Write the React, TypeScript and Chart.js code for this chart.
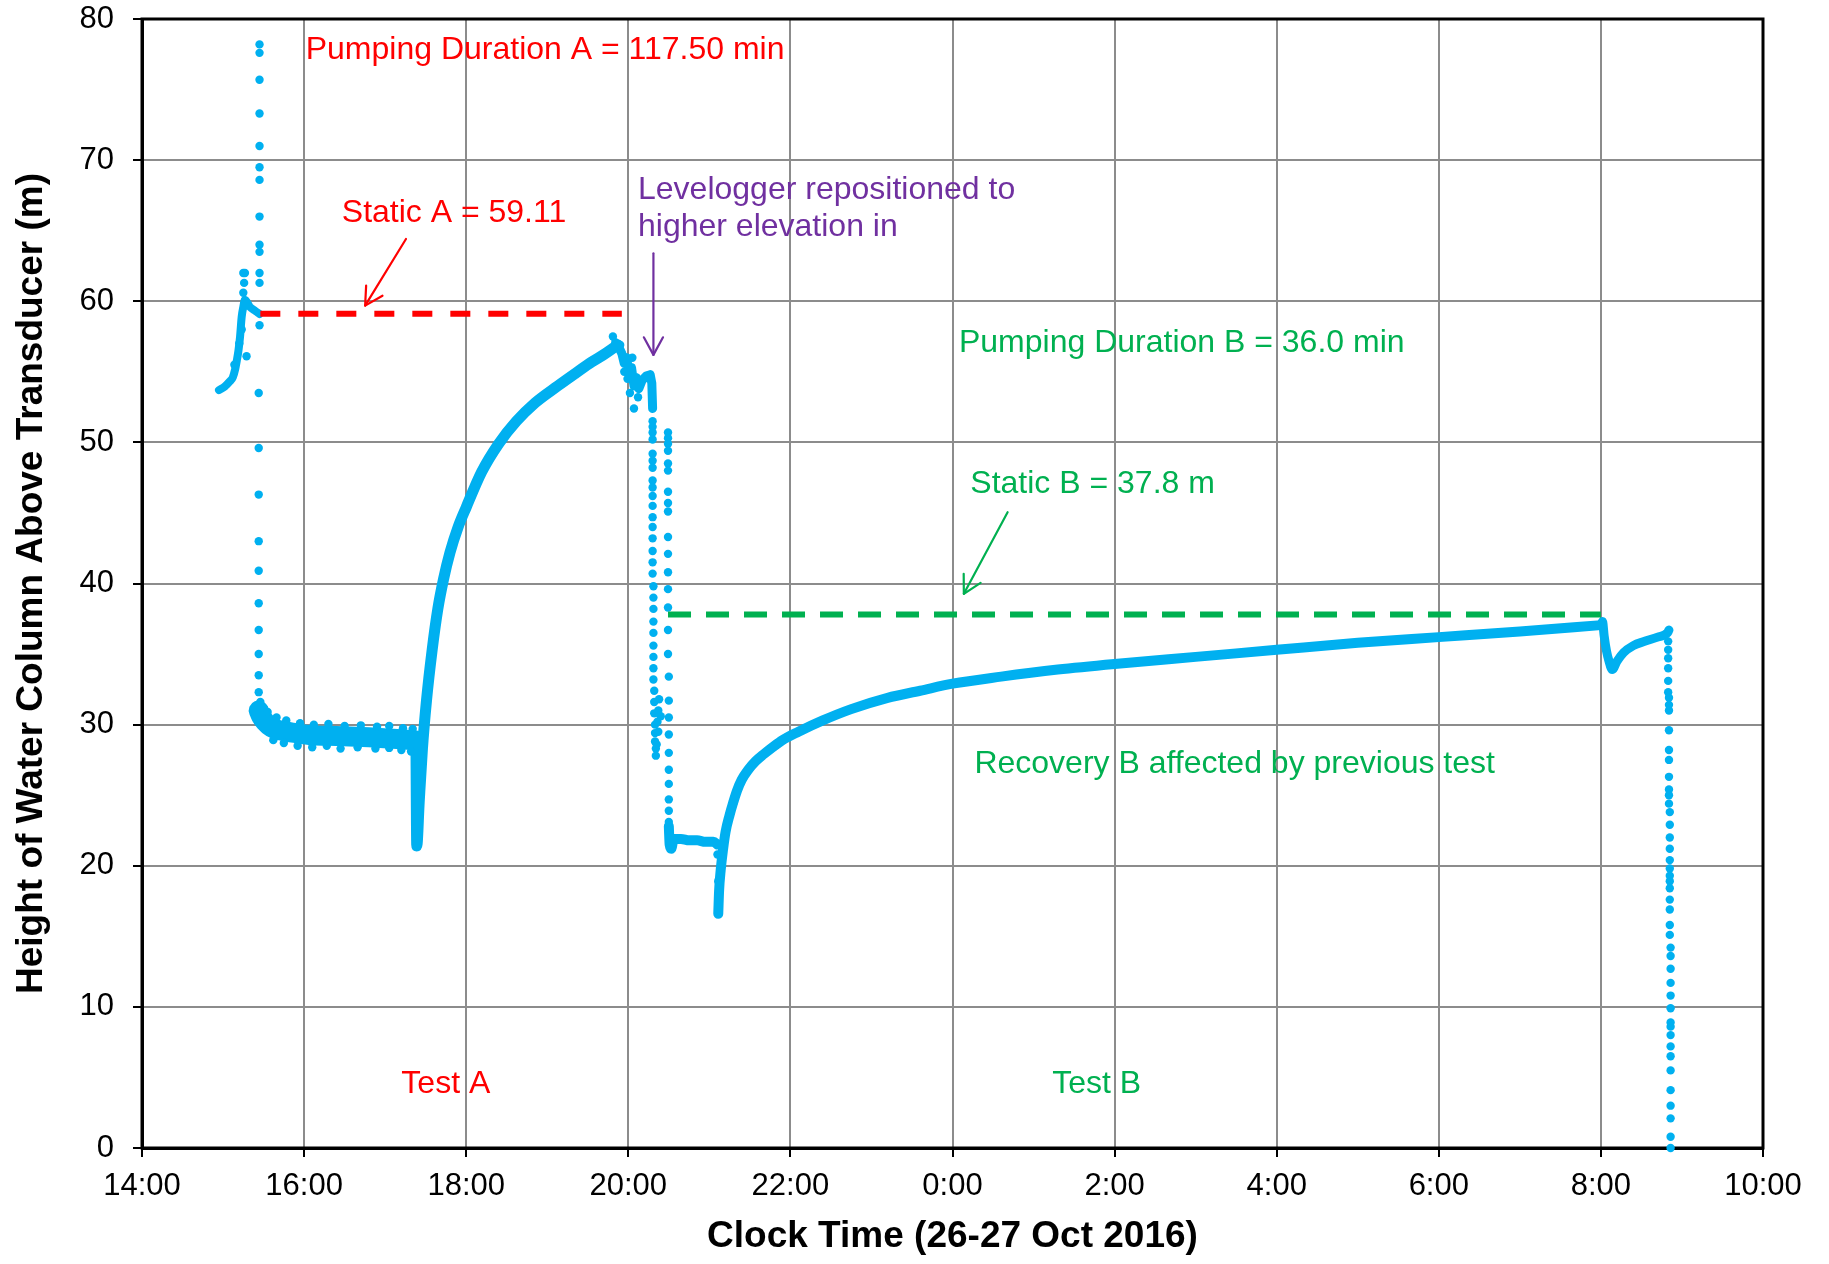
import React, { useEffect, useRef } from 'react';
import { Chart, registerables } from 'chart.js';

Chart.register(...registerables);

type P = [number, number];

const FONT = '"Liberation Sans", Arial, Helvetica, sans-serif';
const BLUE = '#00B0F0';
const RED = '#FF0000';
const GREEN = '#00B050';
const PURPLE = '#7030A0';

// x = hours since 0:00 on 26 Oct 2016 (so 24 = 0:00 on 27 Oct)
const X_TICK_LABELS = ['14:00', '16:00', '18:00', '20:00', '22:00', '0:00', '2:00', '4:00', '6:00', '8:00', '10:00'];

// ---- Test A ----
const preStaticA: P[] = [
  [14.95, 53.7], [15.02, 53.95], [15.08, 54.3], [15.12, 54.6], [15.15, 55.2], [15.17, 55.8], [15.19, 56.5],
  [15.21, 57.5], [15.23, 58.9], [15.25, 59.6], [15.27, 60.1], [15.33, 59.6], [15.4, 59.3], [15.45, 59.1],
];
const preStaticADots: P[] = [
  [15.14, 55.5], [15.2, 57.0], [15.25, 62.0], [15.27, 62.0], [15.26, 61.3], [15.25, 60.6], [15.29, 56.1], [15.23, 58.0],
];
const pumpStartADots: P[] = [
  [15.45, 78.2], [15.45, 77.6], [15.45, 75.7], [15.45, 73.3], [15.45, 71.0], [15.45, 69.5], [15.45, 68.6],
  [15.45, 66.0], [15.45, 64.0], [15.45, 63.5], [15.45, 62.0], [15.45, 61.3], [15.45, 58.3], [15.44, 53.5],
  [15.44, 49.6], [15.44, 46.3], [15.44, 43.0], [15.44, 40.9], [15.44, 38.6], [15.44, 36.7], [15.44, 35.0],
  [15.44, 33.5], [15.44, 32.3],
];
const drawdownA: P[] = [
  [15.44, 31.0], [15.47, 30.6], [15.52, 30.2], [15.6, 29.8], [15.7, 29.6], [15.9, 29.4], [16.1, 29.25],
  [16.4, 29.2], [16.8, 29.1], [17.1, 29.0], [17.37, 28.9],
];
const drawdownANoiseDots: P[] = [
  [15.46, 31.6], [15.5, 31.2], [15.55, 30.9], [15.66, 30.5], [15.78, 30.3], [15.95, 30.1], [16.12, 30.0],
  [16.3, 30.05], [16.5, 29.9], [16.7, 29.95], [16.9, 29.85], [17.05, 29.9], [17.22, 29.75], [17.34, 29.7],
  [15.62, 28.9], [15.75, 28.7], [15.92, 28.5], [16.1, 28.4], [16.28, 28.5], [16.45, 28.3], [16.66, 28.4],
  [16.88, 28.3], [17.05, 28.35], [17.2, 28.2], [17.32, 28.1],
];
const recoveryA: P[] = [
  [17.38, 28.7], [17.39, 21.4], [17.42, 24.5], [17.46, 28.3], [17.51, 31.7], [17.58, 35.3], [17.65, 38.2],
  [17.72, 40.3], [17.8, 42.2], [17.9, 44.0], [18.0, 45.4], [18.19, 47.9], [18.4, 49.9], [18.62, 51.5],
  [18.85, 52.8], [19.13, 54.0], [19.35, 54.9], [19.55, 55.7], [19.72, 56.3], [19.87, 56.9],
];
const repositionNoise: P[] = [
  [19.87, 56.9], [19.92, 56.3], [19.95, 55.6], [19.98, 56.0], [20.01, 54.8], [20.04, 55.3], [20.07, 54.0],
  [20.1, 54.6], [20.13, 53.8], [20.17, 54.4], [20.22, 54.7], [20.27, 54.8], [20.29, 54.2], [20.3, 52.4],
];
const repositionNoiseDots: P[] = [
  [19.81, 57.5], [19.84, 57.1], [19.9, 56.9], [19.95, 55.0], [19.99, 54.5], [20.02, 53.5], [20.07, 52.4],
  [20.12, 53.2], [20.05, 56.0],
];

// ---- Test B ----
const dropColumn1Dots: P[] = [
  [20.3, 51.5], [20.3, 51.1], [20.3, 50.7], [20.3, 50.2], [20.3, 49.2], [20.3, 48.7], [20.3, 48.2], [20.3, 47.3],
  [20.3, 46.8], [20.3, 46.2], [20.3, 45.5], [20.3, 44.7], [20.3, 44.0], [20.3, 43.2], [20.3, 42.3], [20.3, 41.5],
  [20.3, 40.7], [20.31, 39.8], [20.31, 39.0], [20.31, 38.2], [20.31, 37.3], [20.31, 36.5], [20.31, 35.6],
  [20.31, 34.8], [20.31, 34.0], [20.31, 33.2], [20.32, 32.4], [20.32, 31.6], [20.32, 30.8], [20.33, 30.0],
  [20.33, 29.4], [20.33, 28.8], [20.34, 28.3], [20.34, 27.8],
  [20.36, 30.2], [20.37, 31.0], [20.38, 31.8], [20.37, 29.5], [20.35, 28.6], [20.4, 30.6],
];
const dropColumn2Dots: P[] = [
  [20.49, 50.7], [20.49, 50.3], [20.49, 49.9], [20.49, 49.4], [20.49, 48.5], [20.49, 48.0], [20.49, 46.5],
  [20.49, 45.7], [20.49, 45.1], [20.49, 43.3], [20.49, 42.1], [20.49, 40.8], [20.49, 39.6], [20.49, 38.3],
  [20.49, 36.7], [20.49, 35.0], [20.5, 33.4], [20.5, 31.7], [20.5, 30.5], [20.5, 29.3], [20.5, 28.0],
  [20.5, 26.8], [20.5, 25.8], [20.5, 24.7], [20.5, 23.9], [20.5, 23.1],
];
const drawdownB: P[] = [
  [20.5, 22.8], [20.51, 21.5], [20.53, 21.2], [20.56, 21.9], [20.65, 21.9], [20.75, 21.8], [20.85, 21.8],
  [20.95, 21.7], [21.05, 21.7], [21.1, 21.5],
];
const recoveryBStartDots: P[] = [[21.1, 20.8], [21.11, 18.9]];
const recoveryB: P[] = [
  [21.11, 16.6], [21.12, 18.2], [21.14, 19.7], [21.17, 21.2], [21.2, 22.4], [21.25, 23.6], [21.29, 24.4],
  [21.34, 25.3], [21.4, 26.1], [21.48, 26.8], [21.57, 27.4], [21.67, 27.9], [21.78, 28.4], [21.9, 28.9],
  [22.1, 29.5], [22.4, 30.3], [22.75, 31.1], [23.2, 31.9], [23.6, 32.4], [24.0, 32.9],
  [24.6, 33.4], [25.3, 33.9], [26.0, 34.3], [27.0, 34.8], [28.0, 35.3], [29.0, 35.8], [30.0, 36.2],
  [31.0, 36.6], [32.0, 37.05],
];
const morningDip: P[] = [
  [32.0, 37.05], [32.02, 37.3], [32.04, 36.3], [32.07, 35.2], [32.1, 34.5], [32.14, 33.9], [32.2, 34.5],
  [32.28, 35.1], [32.4, 35.6], [32.54, 35.9], [32.7, 36.2], [32.82, 36.5], [32.84, 36.7],
];
const finalDropDots: P[] = [
  [32.83, 35.9], [32.83, 35.3], [32.83, 34.7], [32.83, 34.0], [32.83, 33.1], [32.83, 32.3], [32.84, 31.9],
  [32.84, 31.4], [32.84, 31.0], [32.84, 29.6], [32.84, 28.2], [32.84, 27.5], [32.84, 26.3], [32.84, 25.4],
  [32.84, 25.0], [32.84, 24.4], [32.85, 23.8], [32.85, 22.9], [32.85, 22.0], [32.85, 21.2], [32.85, 20.4],
  [32.85, 19.8], [32.85, 19.3], [32.85, 18.9], [32.85, 18.4], [32.85, 17.6], [32.85, 16.9], [32.85, 15.8],
  [32.85, 15.1], [32.86, 14.2], [32.86, 13.6], [32.86, 12.7], [32.86, 11.7], [32.86, 10.8], [32.86, 9.9],
  [32.86, 8.9], [32.86, 8.6], [32.86, 8.0], [32.86, 7.2], [32.86, 6.5], [32.86, 5.5], [32.86, 4.1],
  [32.86, 3.0], [32.86, 2.1], [32.86, 0.8], [32.86, 0.0],
];

// ---- Static levels ----
const staticA = 59.11;
const staticAStartEnd: number[] = [15.46, 19.92];
const staticB = 37.8;
const staticBStartEnd: number[] = [20.49, 32.0];

// ---- Annotations (data coordinates) ----
const annotationTexts = [
  { text: 'Pumping Duration A = 117.50 min', x: 16.02, y: 77.8, color: RED },
  { text: 'Static A = 59.11', x: 16.465, y: 66.25, color: RED },
  { text: 'Levelogger repositioned to', x: 20.12, y: 67.88, color: PURPLE },
  { text: 'higher elevation in', x: 20.12, y: 65.26, color: PURPLE },
  { text: 'Pumping Duration B = 36.0 min', x: 24.08, y: 57.04, color: GREEN },
  { text: 'Static B = 37.8 m', x: 24.22, y: 47.05, color: GREEN },
  { text: 'Recovery B affected by previous test', x: 24.27, y: 27.2, color: GREEN },
  { text: 'Test A', x: 17.2, y: 4.53, color: RED },
  { text: 'Test B', x: 25.23, y: 4.53, color: GREEN },
];
const annotationArrows = [
  { from: [17.257, 64.41], to: [16.753, 59.69], color: RED },
  { from: [20.31, 63.4], to: [20.31, 56.2], color: PURPLE },
  { from: [24.68, 45.05], to: [24.14, 39.27], color: GREEN },
];

const toXY = (arr: P[]) => arr.map(([x, y]) => ({ x, y }));

function drawArrow(ctx: CanvasRenderingContext2D, x1: number, y1: number, x2: number, y2: number, color: string) {
  ctx.save();
  ctx.strokeStyle = color;
  ctx.lineWidth = 2.2;
  ctx.lineCap = 'round';
  ctx.lineJoin = 'round';
  ctx.beginPath();
  ctx.moveTo(x1, y1);
  ctx.lineTo(x2, y2);
  ctx.stroke();
  const ang = Math.atan2(y2 - y1, x2 - x1);
  const L = 20;
  const a = 0.5;
  ctx.beginPath();
  ctx.moveTo(x2 - L * Math.cos(ang - a), y2 - L * Math.sin(ang - a));
  ctx.lineTo(x2, y2);
  ctx.lineTo(x2 - L * Math.cos(ang + a), y2 - L * Math.sin(ang + a));
  ctx.stroke();
  ctx.restore();
}

const framePlugin = {
  id: 'frame',
  beforeDatasetsDraw(chart: any) {
    const { ctx, chartArea } = chart;
    ctx.save();
    ctx.strokeStyle = '#000';
    ctx.lineWidth = 3;
    ctx.strokeRect(chartArea.left, chartArea.top, chartArea.right - chartArea.left, chartArea.bottom - chartArea.top);
    ctx.restore();
  },
};

const annotationPlugin = {
  id: 'annotations',
  afterDatasetsDraw(chart: any) {
    const { ctx, scales } = chart;
    const xs = scales.x;
    const ys = scales.y;
    ctx.save();
    ctx.font = `32px ${FONT}`;
    ctx.textAlign = 'left';
    ctx.textBaseline = 'middle';
    for (const t of annotationTexts) {
      ctx.fillStyle = t.color;
      ctx.fillText(t.text, xs.getPixelForValue(t.x), ys.getPixelForValue(t.y));
    }
    ctx.restore();
    for (const a of annotationArrows) {
      drawArrow(
        ctx,
        xs.getPixelForValue(a.from[0]), ys.getPixelForValue(a.from[1]),
        xs.getPixelForValue(a.to[0]), ys.getPixelForValue(a.to[1]),
        a.color,
      );
    }
  },
};

const denseLine = (data: P[], width: number, tension = true) => ({
  data: toXY(data),
  showLine: true,
  borderColor: BLUE,
  backgroundColor: BLUE,
  borderWidth: width,
  borderCapStyle: 'round',
  borderJoinStyle: 'round',
  pointRadius: 0,
  cubicInterpolationMode: tension ? 'monotone' : 'default',
  tension: 0,
  clip: false,
});

export default function App() {
  const ref = useRef<HTMLCanvasElement>(null);

  useEffect(() => {
    const sparseDots: P[] = [
      ...preStaticADots, ...pumpStartADots, ...drawdownANoiseDots, ...repositionNoiseDots,
      ...dropColumn1Dots, ...dropColumn2Dots, ...recoveryBStartDots, ...finalDropDots,
    ];
    const chart = new Chart(ref.current as HTMLCanvasElement, {
      type: 'scatter',
      data: {
        datasets: [
          {
            data: staticAStartEnd.map((x) => ({ x, y: staticA })),
            showLine: true,
            borderColor: RED,
            borderWidth: 6,
            borderDash: [20, 18],
            pointRadius: 0,
          },
          {
            data: staticBStartEnd.map((x) => ({ x, y: staticB })),
            showLine: true,
            borderColor: GREEN,
            borderWidth: 6,
            borderDash: [23, 15],
            pointRadius: 0,
          },
          {
            data: toXY(sparseDots),
            showLine: false,
            pointRadius: 4.2,
            pointBackgroundColor: BLUE,
            pointBorderWidth: 0,
            clip: false,
          },
          denseLine(preStaticA, 8),
          denseLine(drawdownA, 20),
          denseLine(recoveryA, 11),
          denseLine(repositionNoise, 9, false),
          denseLine(drawdownB, 10),
          denseLine(recoveryB, 10),
          denseLine(morningDip, 9),
        ] as any,
      },
      options: {
        responsive: false,
        animation: false,
        devicePixelRatio: 1,
        events: [],
        layout: { padding: { top: 19, right: 66, bottom: 0, left: 0 } },
        plugins: {
          legend: { display: false },
          tooltip: { enabled: false },
          title: { display: false },
        },
        scales: {
          x: {
            type: 'linear',
            min: 14,
            max: 34,
            afterFit: (s: any) => {
              s.height = 116;
              s.paddingLeft = 0;
              s.paddingRight = 0;
            },
            ticks: {
              stepSize: 2,
              autoSkip: false,
              maxRotation: 0,
              padding: 11,
              color: '#000',
              font: { family: FONT, size: 31 },
              callback: (v: any) => X_TICK_LABELS[Math.round((Number(v) - 14) / 2)] ?? '',
            },
            grid: { color: '#8c8c8c', lineWidth: 2, tickLength: 9, tickColor: '#000', tickWidth: 2, drawTicks: true },
            border: { display: true, color: '#000', width: 3 },
            title: {
              display: true,
              text: 'Clock Time (26-27 Oct 2016)',
              color: '#000',
              font: { family: FONT, size: 37, weight: 'bold' },
              padding: { top: 0, bottom: 5 },
            },
          },
          y: {
            type: 'linear',
            min: 0,
            max: 80,
            afterFit: (s: any) => {
              s.width = 142;
              s.paddingTop = 0;
              s.paddingBottom = 0;
            },
            ticks: {
              stepSize: 10,
              padding: 19,
              color: '#000',
              font: { family: FONT, size: 31 },
            },
            grid: { color: '#8c8c8c', lineWidth: 2, tickLength: 9, tickColor: '#000', tickWidth: 2, drawTicks: true },
            border: { display: true, color: '#000', width: 3 },
            title: {
              display: true,
              text: 'Height of Water Column Above Transducer (m)',
              color: '#000',
              font: { family: FONT, size: 37, weight: 'bold' },
              padding: { top: 10, bottom: 0 },
            },
          },
        },
      } as any,
      plugins: [framePlugin, annotationPlugin],
    });
    return () => chart.destroy();
  }, []);

  return (
    <div style={{ position: 'absolute', left: 0, top: 0, width: 1829, height: 1264, background: '#fff' }}>
      <canvas ref={ref} width={1829} height={1264} style={{ display: 'block', width: 1829, height: 1264 }} />
    </div>
  );
}
